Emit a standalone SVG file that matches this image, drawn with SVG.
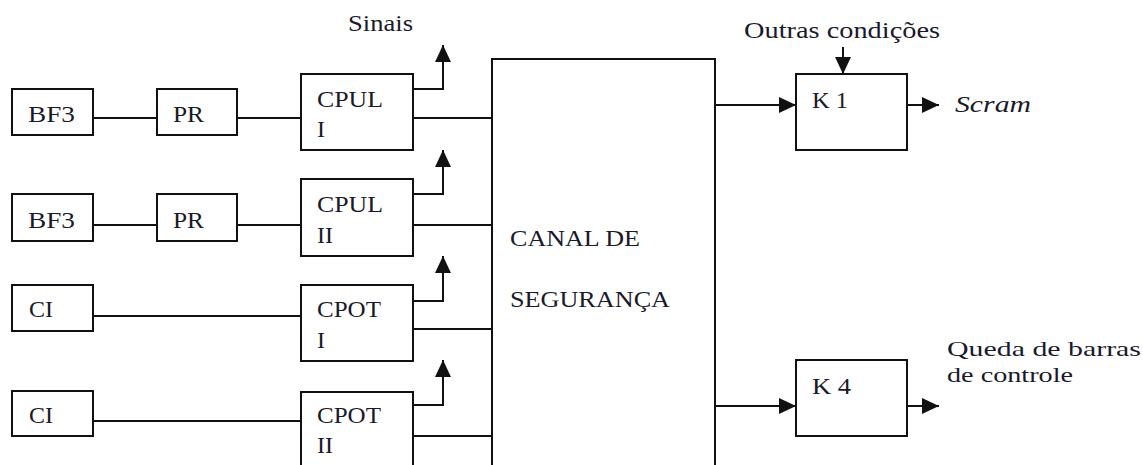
<svg xmlns="http://www.w3.org/2000/svg" width="1143" height="465" viewBox="0 0 1143 465" font-family="'Liberation Serif', 'Times New Roman', Times, serif">
<style>
.box{fill:#fff;stroke:#111;stroke-width:2}
.ln{fill:none;stroke:#111;stroke-width:2}
.arr{fill:none;stroke:#111;stroke-width:2;marker-end:url(#ah)}
.t{font-family:'Liberation Serif','Times New Roman',Times,serif;font-size:24px;fill:#1a1a2a}
.s{font-size:21px}
.it{font-style:italic}
</style>
<defs>
<marker id="ah" viewBox="0 0 17 16" refX="17" refY="8" markerWidth="17" markerHeight="16" markerUnits="userSpaceOnUse" orient="auto">
<path d="M0,0 L17,8 L0,16 z" fill="#111"/>
</marker>
</defs>
<rect width="1143" height="465" fill="#fff"/>
<g id="connectors">
<line class="ln" x1="93" y1="118" x2="157" y2="118"/>
<line class="ln" x1="237" y1="118" x2="301" y2="118"/>
<line class="ln" x1="93" y1="225" x2="157" y2="225"/>
<line class="ln" x1="237" y1="225" x2="301" y2="225"/>
<line class="ln" x1="93" y1="316" x2="301" y2="316"/>
<line class="ln" x1="93" y1="421" x2="301" y2="421"/>
<line class="ln" x1="413" y1="118" x2="492" y2="118"/>
<line class="ln" x1="413" y1="225" x2="492" y2="225"/>
<line class="ln" x1="413" y1="329" x2="492" y2="329"/>
<line class="ln" x1="413" y1="436" x2="492" y2="436"/>
<path class="arr" d="M413,89 H443 V45"/>
<path class="arr" d="M413,194 H443 V150"/>
<path class="arr" d="M413,301 H443 V256"/>
<path class="arr" d="M413,405 H443 V360"/>
<line class="arr" x1="715" y1="105" x2="796" y2="105"/>
<line class="arr" x1="907" y1="105" x2="939" y2="105"/>
<line class="arr" x1="715" y1="406" x2="796" y2="406"/>
<line class="arr" x1="907" y1="406" x2="939" y2="406"/>
<line class="arr" x1="843" y1="47" x2="843" y2="74"/>
</g>
<g id="bf3-1"><rect class="box" x="12" y="89" width="81" height="46"/><text class="t" x="28" y="122" textLength="47" lengthAdjust="spacingAndGlyphs">BF3</text></g>
<g id="pr-1"><rect class="box" x="157" y="89" width="80" height="46"/><text class="t" x="173" y="122" textLength="31" lengthAdjust="spacingAndGlyphs">PR</text></g>
<g id="bf3-2"><rect class="box" x="12" y="194" width="81" height="47"/><text class="t" x="28" y="228" textLength="47" lengthAdjust="spacingAndGlyphs">BF3</text></g>
<g id="pr-2"><rect class="box" x="157" y="194" width="80" height="47"/><text class="t" x="173" y="228" textLength="31" lengthAdjust="spacingAndGlyphs">PR</text></g>
<g id="ci-1"><rect class="box" x="12" y="285" width="81" height="46"/><text class="t" x="29" y="317" textLength="24" lengthAdjust="spacingAndGlyphs">CI</text></g>
<g id="ci-2"><rect class="box" x="12" y="391" width="81" height="45"/><text class="t" x="29" y="423" textLength="24" lengthAdjust="spacingAndGlyphs">CI</text></g>
<g id="cpul-1"><rect class="box" x="301" y="74" width="112" height="76"/><text class="t" x="317" y="107" textLength="66" lengthAdjust="spacingAndGlyphs">CPUL</text><text class="t" x="317" y="137">I</text></g>
<g id="cpul-2"><rect class="box" x="301" y="179" width="112" height="77"/><text class="t" x="317" y="212" textLength="66" lengthAdjust="spacingAndGlyphs">CPUL</text><text class="t" x="317" y="243">II</text></g>
<g id="cpot-1"><rect class="box" x="301" y="285" width="112" height="76"/><text class="t" x="317" y="317" textLength="64" lengthAdjust="spacingAndGlyphs">CPOT</text><text class="t" x="317" y="348">I</text></g>
<g id="cpot-2"><rect class="box" x="301" y="392" width="112" height="80"/><text class="t" x="317" y="423" textLength="64" lengthAdjust="spacingAndGlyphs">CPOT</text><text class="t" x="317" y="453">II</text></g>
<g id="sinais"><text class="t" x="348" y="31" textLength="65" lengthAdjust="spacingAndGlyphs">Sinais</text></g>
<g id="canal"><rect class="box" x="492" y="59" width="223" height="420"/><text class="t" x="510" y="246" textLength="130" lengthAdjust="spacingAndGlyphs">CANAL DE</text><text class="t" x="510" y="307" textLength="160" lengthAdjust="spacingAndGlyphs">SEGURANÇA</text></g>
<g id="outras"><text class="t" x="744" y="38" textLength="196" lengthAdjust="spacingAndGlyphs">Outras condições</text></g>
<g id="k1"><rect class="box" x="796" y="74" width="111" height="76"/><text class="t" x="812" y="108" textLength="36" lengthAdjust="spacingAndGlyphs">K 1</text></g>
<g id="scram"><text class="t it" x="955" y="112" textLength="76" lengthAdjust="spacingAndGlyphs">Scram</text></g>
<g id="k4"><rect class="box" x="796" y="360" width="111" height="76"/><text class="t" x="812" y="394" textLength="39" lengthAdjust="spacingAndGlyphs">K 4</text></g>
<g id="queda"><text class="t s" x="947" y="356" textLength="194" lengthAdjust="spacingAndGlyphs">Queda de barras</text><text class="t s" x="947" y="382" textLength="126" lengthAdjust="spacingAndGlyphs">de controle</text></g>
</svg>
